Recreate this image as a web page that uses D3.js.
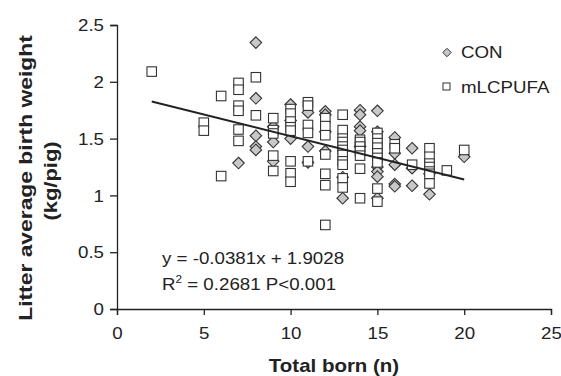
<!DOCTYPE html>
<html>
<head>
<meta charset="utf-8">
<script src="https://cdn.jsdelivr.net/npm/d3@7"></script>
<style>
  html, body { margin: 0; padding: 0; background: #fff; }
  svg { display: block; font-family: "Liberation Sans", Arial, sans-serif; }
</style>
</head>
<body>
<div id="chart"></div>
<script>
// CON (diamonds)
const conX = [7, 8, 8, 8, 8, 8, 9, 9, 9, 10, 10, 10, 11, 11, 11, 12, 12, 12, 12, 13, 13,
  14, 14, 14, 14, 14, 15, 15, 15, 15, 15, 15, 16, 16, 16, 16, 16, 17, 17, 17, 18, 18, 20];
const conY = [1.285, 2.345, 1.855, 1.525, 1.43, 1.40, 1.605, 1.47, 1.30, 1.80, 1.66, 1.50,
  1.73, 1.43, 1.29, 1.74, 1.71, 1.56, 1.39, 1.16, 0.975,
  1.75, 1.71, 1.605, 1.57, 1.43, 1.745, 1.56, 1.25, 1.21, 1.165, 0.975,
  1.51, 1.37, 1.27, 1.10, 1.08, 1.415, 1.24, 1.085, 1.01, 1.19, 1.34];

// mLCPUFA (squares)
const lcX = [2, 5, 5, 6, 6, 7, 7, 7, 7, 7, 7, 8, 8, 9, 9, 9, 9, 9,
  10, 10, 10, 10, 10, 10, 10, 10, 11, 11, 11, 11, 11,
  12, 12, 12, 12, 12, 12, 12, 13, 13, 13, 13, 13, 13, 13, 13, 13, 13, 13,
  14, 14, 14, 14, 14, 14, 14, 15, 15, 15, 15, 15, 15, 15, 15, 15,
  16, 16, 17, 18, 18, 18, 18, 18, 18, 18, 19, 20];
const lcY = [2.09, 1.64, 1.57, 1.875, 1.17, 1.99, 1.93, 1.79, 1.745, 1.58, 1.48, 2.04, 1.705,
  1.68, 1.575, 1.545, 1.35, 1.215,
  1.76, 1.72, 1.65, 1.60, 1.57, 1.30, 1.195, 1.12, 1.82, 1.79, 1.62, 1.55, 1.30,
  1.68, 1.61, 1.53, 1.36, 1.19, 1.09, 0.74,
  1.71, 1.575, 1.50, 1.47, 1.43, 1.40, 1.356, 1.30, 1.27, 1.15, 1.07,
  1.49, 1.47, 1.43, 1.39, 1.35, 1.235, 0.975,
  1.55, 1.50, 1.46, 1.42, 1.37, 1.33, 1.29, 1.06, 0.945,
  1.45, 1.415, 1.27, 1.415, 1.34, 1.28, 1.25, 1.21, 1.19, 1.105, 1.22, 1.40];

const xTicks = [0, 5, 10, 15, 20, 25];
const yTicks = [0, 0.5, 1, 1.5, 2, 2.5];
const trendSlope = -0.0381;
const trendIntercept = 1.9028;
const trendRange = [2, 20];

const W = 561, H = 376;
const mLeft = 117, mRight = 551, mTop = 25, mBottom = 309;
const sx = 1.17; // horizontal text stretch

const svg = d3.select("#chart").append("svg")
  .attr("width", W).attr("height", H);

const x = d3.scaleLinear().domain([0, 25]).range([mLeft, mRight]);
const y = d3.scaleLinear().domain([0, 2.5]).range([mBottom, mTop]);

// axes
const yAxis = svg.append("g")
  .attr("transform", "translate(" + mLeft + ",0)")
  .call(d3.axisLeft(y).tickValues(yTicks).tickSize(7).tickFormat(d3.format("")));
const xAxis = svg.append("g")
  .attr("transform", "translate(0," + mBottom + ")")
  .call(d3.axisBottom(x).tickValues(xTicks).tickSize(6).tickFormat(d3.format("")));

[yAxis, xAxis].forEach(g => {
  g.select(".domain").attr("stroke", "#222").attr("stroke-width", 1.3);
  g.selectAll(".tick line").attr("stroke", "#222").attr("stroke-width", 1.3);
  g.selectAll(".tick text").attr("fill", "#222").style("font-size", "16px")
    .style("font-family", "'Liberation Sans', Arial, sans-serif");
});
yAxis.selectAll(".tick text")
  .attr("x", 0).attr("dy", "0.35em")
  .attr("transform", "translate(-13,0) scale(" + sx + ",1)");
xAxis.selectAll(".tick text")
  .attr("y", 0).attr("dy", 0)
  .attr("transform", "translate(0,30) scale(" + sx + ",1)");

// diamonds first, squares on top
const diamond = d3.symbol().type(d3.symbolDiamond2).size(85);
svg.append("g").selectAll("path")
  .data(conX.map((d, i) => [d, conY[i]]))
  .enter().append("path")
  .attr("d", diamond)
  .attr("transform", d => "translate(" + x(d[0]) + "," + y(d[1]) + ")")
  .attr("fill", "#c8c8c8")
  .attr("stroke", "#333")
  .attr("stroke-width", 1.1);

const sq = 9.5;
svg.append("g").selectAll("rect")
  .data(lcX.map((d, i) => [d, lcY[i]]))
  .enter().append("rect")
  .attr("x", d => x(d[0]) - sq / 2)
  .attr("y", d => y(d[1]) - sq / 2)
  .attr("width", sq).attr("height", sq)
  .attr("fill", "#fff")
  .attr("stroke", "#333")
  .attr("stroke-width", 1.1);

// trend line
svg.append("line")
  .attr("x1", x(trendRange[0]))
  .attr("y1", y(trendSlope * trendRange[0] + trendIntercept))
  .attr("x2", x(trendRange[1]))
  .attr("y2", y(trendSlope * trendRange[1] + trendIntercept))
  .attr("stroke", "#222")
  .attr("stroke-width", 2);

// helper for stretched text
function label(px, py, str, size, weight, anchor, rot) {
  return svg.append("text")
    .attr("transform", "translate(" + px + "," + py + ")" + (rot ? " rotate(" + rot + ")" : "") + " scale(" + sx + ",1)")
    .attr("text-anchor", anchor || "start")
    .attr("fill", "#222")
    .style("font-size", size + "px")
    .style("font-weight", weight || "normal")
    .text(str);
}

// equation
label(162, 264, "y = -0.0381x + 1.9028", 16);
const r2 = label(162, 290, "R", 16);
r2.append("tspan").attr("dy", -7).style("font-size", "10px").text("2");
r2.append("tspan").attr("dy", 7).text(" = 0.2681 P<0.001");

// legend
svg.append("path")
  .attr("d", d3.symbol().type(d3.symbolDiamond2).size(45))
  .attr("transform", "translate(447,52.5)")
  .attr("fill", "#c8c8c8").attr("stroke", "#333").attr("stroke-width", 1);
label(461, 58, "CON", 16);
svg.append("rect")
  .attr("x", 443).attr("y", 83).attr("width", 7).attr("height", 7)
  .attr("fill", "#fff").attr("stroke", "#333").attr("stroke-width", 1);
label(461, 92.5, "mLCPUFA", 16);

// axis titles
label(334, 372, "Total born (n)", 17.5, "bold", "middle");
label(32, 178, "Litter average birth weight", 18, "bold", "middle", -90)
  .attr("transform", "translate(32,178) rotate(-90) scale(1.27,1)");
label(57, 181, "(kg/pig)", 18, "bold", "middle", -90)
  .attr("transform", "translate(57,181) rotate(-90) scale(1.22,1)");
</script>
</body>
</html>
